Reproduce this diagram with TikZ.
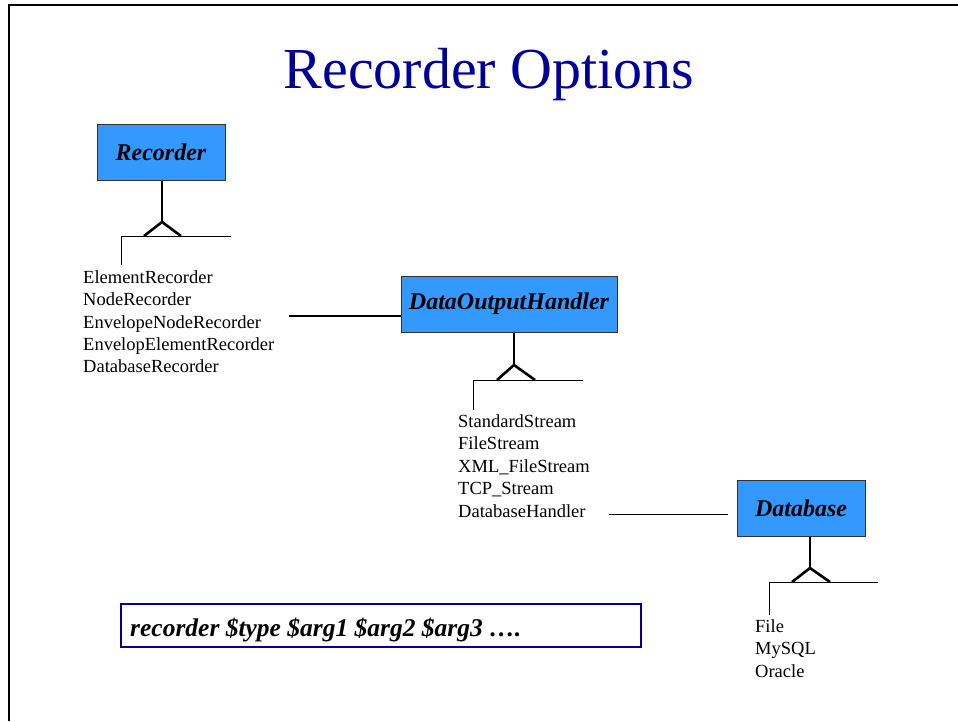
\documentclass[tikz,border=0pt]{standalone}
\usepackage{fontspec}
\setmainfont{Liberation Serif}
\definecolor{boxblue}{HTML}{3399FF}
\definecolor{navy}{HTML}{000099}
\definecolor{edgegray}{HTML}{333333}
\begin{document}
\begin{tikzpicture}[x=1pt,y=-1pt,
  cls/.style={draw=edgegray,line width=1pt,fill=boxblue,inner sep=0pt,
    font=\fontsize{24}{28}\selectfont\bfseries\itshape},
  item/.style={anchor=base west,inner sep=0pt,font=\fontsize{18.5}{22}\selectfont},
  conn/.style={line width=1.4pt},
  crow/.style={line width=2.6pt,line join=miter},
  thin/.style={line width=1pt}]
\useasboundingbox (0,0) rectangle (958,721);
% slide frame
\draw[line width=2.5pt] (9,721) -- (9,5) -- (958,5);
% title
\node[anchor=base,inner sep=0pt,text=navy,font=\fontsize{58}{64}\selectfont] (title) at (489,88) {Recorder Options};
% class boxes
\node[cls,minimum width=128pt,minimum height=56pt] (rec) at (161,152) {Recorder};
\node[cls,minimum width=216pt,minimum height=56pt] (doh) at (509,304) {DataOutputHandler};
\node[cls,minimum width=128pt,minimum height=56pt] (db) at (801,508) {Database};
% Recorder tree
\coordinate (ra) at (162,222);
\draw[conn] (rec.south -| ra) -- (ra);
\draw[crow] (144,236) -- (ra) -- (181,236);
\coordinate (rl) at (121,236);
\coordinate (rr) at (231,236);
\draw[thin] (121,265) -- (rl) -- (rr);
\foreach \n/\t/\y in {r1/ElementRecorder/283,r2/NodeRecorder/305,r3/EnvelopeNodeRecorder/328,r4/EnvelopElementRecorder/350,r5/DatabaseRecorder/372}
  \node[item] (\n) at (83,\y) {\t};
\coordinate (rc) at (289,316);
\draw[conn] (rc) -- (rc -| doh.west);
% DataOutputHandler tree
\coordinate (da) at (514,365);
\draw[conn] (doh.south -| da) -- (da);
\draw[crow] (497,380) -- (da) -- (535,380);
\coordinate (dl) at (473,380);
\coordinate (dr) at (583,380);
\draw[thin] (473,410) -- (dl) -- (dr);
\foreach \n/\t/\y in {s1/StandardStream/427,s2/FileStream/449,s3/XML\_FileStream/472,s4/TCP\_Stream/494,s5/DatabaseHandler/517}
  \node[item] (\n) at (458,\y) {\t};
\coordinate (dc) at (609,514);
\draw[thin] (dc) -- (728,514);
% Database tree
\coordinate (ba) at (810,568);
\draw[conn] (db.south -| ba) -- (ba);
\draw[crow] (792,582) -- (ba) -- (830,582);
\coordinate (bl) at (769,582);
\coordinate (br) at (878,582);
\draw[thin] (769,615) -- (bl) -- (br);
\foreach \n/\t/\y in {b1/File/632,b2/MySQL/654,b3/Oracle/677}
  \node[item] (\n) at (755,\y) {\t};
% command box
\draw[navy,line width=2pt] (121,604) rectangle (641,647);
\node[anchor=base west,inner sep=0pt,font=\fontsize{25.5}{30}\selectfont\bfseries\itshape] (cmd) at (130,636) {recorder \$type \$arg1 \$arg2 \$arg3 \dots.};
\end{tikzpicture}
\end{document}
